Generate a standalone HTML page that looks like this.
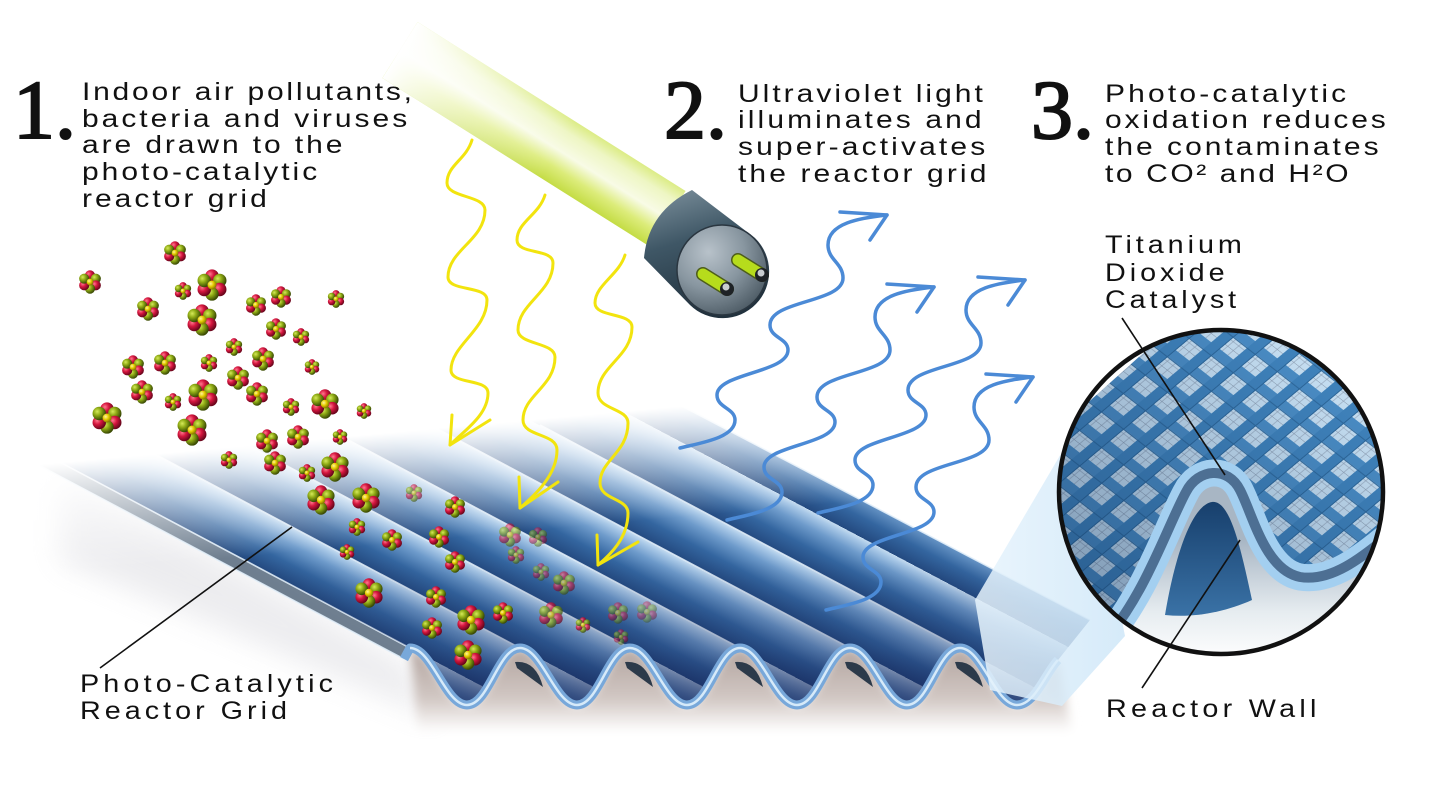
<!DOCTYPE html>
<html><head><meta charset="utf-8"><style>html,body{margin:0;padding:0;background:#fff;}svg{display:block}</style></head>
<body>
<svg xmlns="http://www.w3.org/2000/svg" width="1443" height="805" viewBox="0 0 1443 805">
<defs>
  <filter id="bs" filterUnits="userSpaceOnUse" x="300" y="550" width="900" height="250"><feGaussianBlur stdDeviation="5"/></filter>
  <filter id="bl" filterUnits="userSpaceOnUse" x="-100" y="350" width="700" height="450"><feGaussianBlur stdDeviation="14"/></filter>
  <filter id="b2" filterUnits="userSpaceOnUse" x="550" y="130" width="120" height="110"><feGaussianBlur stdDeviation="2"/></filter>

  <linearGradient id="band" gradientUnits="userSpaceOnUse" x1="410" y1="648" x2="434.1" y2="602.5" spreadMethod="repeat">
    <stop offset="0" stop-color="#244a80"/>
    <stop offset="0.35" stop-color="#3466a0"/>
    <stop offset="0.7" stop-color="#6e9bcb"/>
    <stop offset="0.92" stop-color="#a8c8e7"/>
    <stop offset="1" stop-color="#c6dcf0"/>
  </linearGradient>
  <linearGradient id="navy" gradientUnits="userSpaceOnUse" x1="0" y1="560" x2="0" y2="708">
    <stop offset="0" stop-color="#162458" stop-opacity="0"/>
    <stop offset="0.6" stop-color="#162458" stop-opacity="0.3"/>
    <stop offset="1" stop-color="#162458" stop-opacity="0.7"/>
  </linearGradient>
  <linearGradient id="fadeW" gradientUnits="userSpaceOnUse" x1="200" y1="450" x2="210" y2="560">
    <stop offset="0" stop-color="#fff" stop-opacity="1"/>
    <stop offset="1" stop-color="#fff" stop-opacity="0"/>
  </linearGradient>
  <linearGradient id="shad" gradientUnits="userSpaceOnUse" x1="0" y1="650" x2="0" y2="732">
    <stop offset="0" stop-color="#b3a5a0"/>
    <stop offset="0.6" stop-color="#d2c8c4"/>
    <stop offset="1" stop-color="#ffffff"/>
  </linearGradient>
  <linearGradient id="glass" gradientUnits="userSpaceOnUse" x1="685.6" y1="191" x2="650.4" y2="247">
    <stop offset="0" stop-color="#dcec86"/>
    <stop offset="0.2" stop-color="#eef6c4"/>
    <stop offset="0.5" stop-color="#f8fbe6"/>
    <stop offset="0.75" stop-color="#dcec7a"/>
    <stop offset="1" stop-color="#c4dc44"/>
  </linearGradient>
  <linearGradient id="glassFade" gradientUnits="userSpaceOnUse" x1="400" y1="50" x2="560" y2="150">
    <stop offset="0" stop-color="#fff" stop-opacity="1"/>
    <stop offset="1" stop-color="#fff" stop-opacity="0"/>
  </linearGradient>
  <linearGradient id="capBody" x1="0" y1="0" x2="0.3" y2="1">
    <stop offset="0" stop-color="#7f939f"/>
    <stop offset="0.45" stop-color="#3f5766"/>
    <stop offset="1" stop-color="#22323e"/>
  </linearGradient>
  <radialGradient id="capFace" cx="0.35" cy="0.3" r="0.8">
    <stop offset="0" stop-color="#b8c2ca"/>
    <stop offset="0.5" stop-color="#8896a0"/>
    <stop offset="1" stop-color="#46545e"/>
  </radialGradient>
  <radialGradient id="gRed" cx="0.35" cy="0.35" r="0.65">
    <stop offset="0" stop-color="#ff7a8e"/>
    <stop offset="0.45" stop-color="#d6163f"/>
    <stop offset="1" stop-color="#6a061c"/>
  </radialGradient>
  <radialGradient id="gGrn" cx="0.35" cy="0.35" r="0.65">
    <stop offset="0" stop-color="#d6ea5a"/>
    <stop offset="0.45" stop-color="#8eaa14"/>
    <stop offset="1" stop-color="#3a4a04"/>
  </radialGradient>
  <radialGradient id="gYel" cx="0.35" cy="0.35" r="0.65">
    <stop offset="0" stop-color="#fff6a0"/>
    <stop offset="0.5" stop-color="#e6cc00"/>
    <stop offset="1" stop-color="#8a7a00"/>
  </radialGradient>
  <symbol id="mol" viewBox="-1 -1 2 2">
    <circle cx="0" cy="-0.56" r="0.42" fill="url(#gRed)"/>
    <circle cx="0.485" cy="-0.28" r="0.42" fill="url(#gGrn)"/>
    <circle cx="0.485" cy="0.28" r="0.42" fill="url(#gRed)"/>
    <circle cx="0" cy="0.56" r="0.42" fill="url(#gGrn)"/>
    <circle cx="-0.485" cy="0.28" r="0.42" fill="url(#gRed)"/>
    <circle cx="-0.485" cy="-0.28" r="0.42" fill="url(#gGrn)"/>
    <circle cx="0" cy="0" r="0.28" fill="url(#gYel)"/>
  </symbol>

  <pattern id="mesh" width="28" height="28" patternUnits="userSpaceOnUse" patternTransform="rotate(38) skewX(-12)">
    <rect width="28" height="28" fill="#c6dff2"/>
    <path d="M0,7H28M0,14H28M0,21H28M7,0V28M14,0V28M21,0V28" stroke="#8898ac" stroke-width="0.5"/>
    <rect x="0" y="0" width="28" height="10" fill="#4a8cc4"/>
    <rect x="0" y="0" width="10" height="28" fill="#3f82bb"/>
    <path d="M0,10.5H28M10.5,0V28" stroke="#2c6699" stroke-width="1"/>
  </pattern>
  <linearGradient id="meshShade" gradientUnits="userSpaceOnUse" x1="1320" y1="360" x2="1090" y2="640">
    <stop offset="0" stop-color="#0a2850" stop-opacity="0"/>
    <stop offset="1" stop-color="#0a2850" stop-opacity="0.4"/>
  </linearGradient>
  <linearGradient id="under" gradientUnits="userSpaceOnUse" x1="0" y1="540" x2="0" y2="660">
    <stop offset="0" stop-color="#a8b6c4"/>
    <stop offset="0.6" stop-color="#e6ecf0"/>
    <stop offset="1" stop-color="#ffffff"/>
  </linearGradient>
  <linearGradient id="hump" x1="0" y1="0" x2="0" y2="1">
    <stop offset="0" stop-color="#173f6c"/>
    <stop offset="1" stop-color="#3a72a6"/>
  </linearGradient>
  <linearGradient id="beam" gradientUnits="userSpaceOnUse" x1="980" y1="0" x2="1120" y2="0">
    <stop offset="0" stop-color="#e6f3fc"/>
    <stop offset="1" stop-color="#cfe7f8"/>
  </linearGradient>
  <clipPath id="cc"><circle cx="1221" cy="492" r="162"/></clipPath>
</defs>

<rect width="1443" height="805" fill="#fff"/>

<!-- shadows -->
<polygon points="60,470 404,662 440,720 60,560" fill="#d6d6dc" opacity="0.45" filter="url(#bl)"/>
<path d="M410,648 C432,648 445,705 467,705 C489,705 498,648 520,648 C542,648 555,705 577,705 C599,705 608,648 630,648 C652,648 665,705 687,705 C709,705 718,648 740,648 C762,648 775,705 797,705 C819,705 828,648 850,648 C872,648 885,705 907,705 C929,705 938,648 960,648 C982,648 995,705 1017,705 C1035,705 1046,672 1058,660 L1072,732 L418,732 Z" fill="url(#shad)" filter="url(#bs)"/>

<!-- dark underside triangles -->
<g fill="#2c3a4a">
  <path d="M515,662 Q536,660 543,687 L517,668 Z"/>
  <path d="M625,662 Q646,660 653,687 L627,668 Z"/>
  <path d="M735,662 Q756,660 763,687 L737,668 Z"/>
  <path d="M845,662 Q866,660 873,687 L847,668 Z"/>
  <path d="M955,662 Q976,660 983,687 L957,668 Z"/>
</g>

<!-- left strip -->
<polygon points="410,648 -10,425 -16,436 404,659" fill="#56687c" opacity="0.85"/>

<!-- sheet -->
<path d="M410,648 C432,648 445,705 467,705 C489,705 498,648 520,648 C542,648 555,705 577,705 C599,705 608,648 630,648 C652,648 665,705 687,705 C709,705 718,648 740,648 C762,648 775,705 797,705 C819,705 828,648 850,648 C872,648 885,705 907,705 C929,705 938,648 960,648 C982,648 995,705 1017,705 C1035,705 1046,672 1058,660 L1090,620 L680,405 L-10,425 Z" fill="url(#band)"/>
<g stroke="#e2effa" stroke-width="1.6" opacity="0.9">
  <line x1="410" y1="648" x2="-10" y2="425"/>
  <line x1="520" y1="648" x2="100" y2="425"/>
  <line x1="630" y1="648" x2="210" y2="425"/>
  <line x1="740" y1="648" x2="320" y2="425"/>
  <line x1="850" y1="648" x2="430" y2="425"/>
  <line x1="960" y1="648" x2="540" y2="425"/>
  <line x1="1090" y1="620" x2="680" y2="405"/>
  <line x1="404" y1="659" x2="-16" y2="436"/>
</g>
<path d="M410,648 C432,648 445,705 467,705 C489,705 498,648 520,648 C542,648 555,705 577,705 C599,705 608,648 630,648 C652,648 665,705 687,705 C709,705 718,648 740,648 C762,648 775,705 797,705 C819,705 828,648 850,648 C872,648 885,705 907,705 C929,705 938,648 960,648 C982,648 995,705 1017,705 C1035,705 1046,672 1058,660 L1090,620 L680,405 L-10,425 Z" fill="url(#navy)"/>
<!-- front rim -->
<path d="M404,659 L410,648 C432,648 445,705 467,705 C489,705 498,648 520,648 C542,648 555,705 577,705 C599,705 608,648 630,648 C652,648 665,705 687,705 C709,705 718,648 740,648 C762,648 775,705 797,705 C819,705 828,648 850,648 C872,648 885,705 907,705 C929,705 938,648 960,648 C982,648 995,705 1017,705 C1035,705 1046,672 1058,660" fill="none" stroke="#78a8da" stroke-width="9" stroke-linejoin="round"/>
<path d="M410,648 C432,648 445,705 467,705 C489,705 498,648 520,648 C542,648 555,705 577,705 C599,705 608,648 630,648 C652,648 665,705 687,705 C709,705 718,648 740,648 C762,648 775,705 797,705 C819,705 828,648 850,648 C872,648 885,705 907,705 C929,705 938,648 960,648 C982,648 995,705 1017,705 C1035,705 1046,672 1058,660" fill="none" stroke="#d6eaf9" stroke-width="2.5"/>

<!-- fade to white at back -->
<rect x="-20" y="370" width="1140" height="240" fill="url(#fadeW)"/>

<!-- yellow arrows -->
<g fill="none" stroke="#f2e40e" stroke-width="3" stroke-linecap="round" stroke-linejoin="round">
  <path d="M472,140 C466,160 447,165 447,183 C447,198 485,195 485,210 C485,240 448,250 448,277 C448,292 487,285 487,300 C487,330 451,345 451,370 C451,385 488,378 488,393 C488,415 465,430 450,445"/>
  <path d="M452,415 L450,445 L490,420"/>
  <path d="M545,195 C539,215 517,222 517,240 C517,255 553,248 553,263 C553,293 518,303 518,330 C518,345 555,342 555,357 C555,387 523,395 523,420 C523,437 557,433 557,450 C557,475 535,495 520,508"/>
  <path d="M519,477 L520,508 L558,482"/>
  <path d="M625,255 C619,275 595,285 595,303 C595,318 632,312 632,327 C632,357 598,366 598,393 C598,410 628,408 628,423 C628,453 600,460 600,483 C600,500 628,498 628,513 C628,538 610,555 598,565"/>
  <path d="M597,535 L598,565 L638,542"/>
</g>

<!-- blue arrows -->
<g fill="none" stroke="#4b8ad6" stroke-width="3.5" stroke-linecap="round" stroke-linejoin="round">
  <g transform="translate(680,448)"><path d="M0,0 C20,-5 55,-10 55,-28 C55,-40 37,-40 37,-53 C37,-75 108,-75 108,-98 C108,-110 90,-110 90,-123 C90,-148 163,-145 163,-170 C163,-185 148,-188 148,-203 C148,-225 180,-230 207,-233"/><path d="M160,-236 L207,-233 L190,-208"/></g>
  <g transform="translate(727,520)"><path d="M0,0 C20,-5 55,-10 55,-28 C55,-40 37,-40 37,-53 C37,-75 108,-75 108,-98 C108,-110 90,-110 90,-123 C90,-148 163,-145 163,-170 C163,-185 148,-188 148,-203 C148,-225 180,-230 207,-233"/><path d="M160,-236 L207,-233 L190,-208"/></g>
  <g transform="translate(818,513)"><path d="M0,0 C20,-5 55,-10 55,-28 C55,-40 37,-40 37,-53 C37,-75 108,-75 108,-98 C108,-110 90,-110 90,-123 C90,-148 163,-145 163,-170 C163,-185 148,-188 148,-203 C148,-225 180,-230 207,-233"/><path d="M160,-236 L207,-233 L190,-208"/></g>
  <g transform="translate(826,610)"><path d="M0,0 C20,-5 55,-10 55,-28 C55,-40 37,-40 37,-53 C37,-75 108,-75 108,-98 C108,-110 90,-110 90,-123 C90,-148 163,-145 163,-170 C163,-185 148,-188 148,-203 C148,-225 180,-230 207,-233"/><path d="M160,-236 L207,-233 L190,-208"/></g>
</g>

<!-- UV tube -->
<polygon points="417.6,22 685.6,191 650.4,247 382.4,78" fill="url(#glass)"/>
<polygon points="417.6,22 685.6,191 650.4,247 382.4,78" fill="url(#glassFade)"/>
<rect x="-20" y="-18" width="40" height="36" fill="#fff" opacity="0.85" transform="translate(613,188) rotate(32)" filter="url(#b2)"/>
<path d="M692,190 L755,238 A46,46 0 0 1 690,305 L644,258 Q648,212 692,190 Z" fill="url(#capBody)"/>
<circle cx="722" cy="270" r="45" fill="url(#capFace)" stroke="#2a3640" stroke-width="1.5"/>
<g stroke-linecap="round">
  <line x1="703" y1="274" x2="727" y2="289" stroke="#4e5e1a" stroke-width="14"/>
  <line x1="703" y1="274" x2="727" y2="289" stroke="#b6dc1c" stroke-width="11"/>
  <line x1="738" y1="260" x2="762" y2="275" stroke="#4e5e1a" stroke-width="14"/>
  <line x1="738" y1="260" x2="762" y2="275" stroke="#b6dc1c" stroke-width="11"/>
</g>
<circle cx="727" cy="289" r="7" fill="#1e2226"/><circle cx="726" cy="287" r="3.5" fill="#c9cdd0"/>
<circle cx="762" cy="275" r="7" fill="#1e2226"/><circle cx="761" cy="273" r="3.5" fill="#c9cdd0"/>

<!-- molecules -->
<g>
<use href="#mol" x="163" y="241" width="24" height="24"/>
<use href="#mol" x="78" y="270" width="24" height="24"/>
<use href="#mol" x="196" y="269" width="32" height="32"/>
<use href="#mol" x="174" y="282" width="18" height="18"/>
<use href="#mol" x="136" y="297" width="24" height="24"/>
<use href="#mol" x="186" y="304" width="32" height="32"/>
<use href="#mol" x="245" y="294" width="22" height="22"/>
<use href="#mol" x="270" y="286" width="22" height="22"/>
<use href="#mol" x="327" y="290" width="18" height="18"/>
<use href="#mol" x="265" y="318" width="22" height="22"/>
<use href="#mol" x="292" y="328" width="18" height="18"/>
<use href="#mol" x="225" y="338" width="18" height="18"/>
<use href="#mol" x="251" y="347" width="24" height="24"/>
<use href="#mol" x="304" y="359" width="16" height="16"/>
<use href="#mol" x="121" y="355" width="24" height="24"/>
<use href="#mol" x="153" y="351" width="24" height="24"/>
<use href="#mol" x="200" y="354" width="18" height="18"/>
<use href="#mol" x="226" y="366" width="24" height="24"/>
<use href="#mol" x="130" y="380" width="24" height="24"/>
<use href="#mol" x="187" y="379" width="32" height="32"/>
<use href="#mol" x="245" y="382" width="24" height="24"/>
<use href="#mol" x="164" y="393" width="18" height="18"/>
<use href="#mol" x="282" y="398" width="18" height="18"/>
<use href="#mol" x="310" y="389" width="30" height="30"/>
<use href="#mol" x="356" y="403" width="16" height="16"/>
<use href="#mol" x="91" y="402" width="32" height="32"/>
<use href="#mol" x="176" y="414" width="32" height="32"/>
<use href="#mol" x="255" y="429" width="24" height="24"/>
<use href="#mol" x="286" y="425" width="24" height="24"/>
<use href="#mol" x="332" y="429" width="16" height="16"/>
<use href="#mol" x="220" y="451" width="18" height="18"/>
<use href="#mol" x="263" y="451" width="24" height="24"/>
<use href="#mol" x="320" y="452" width="30" height="30"/>
<use href="#mol" x="298" y="464" width="18" height="18"/>
<use href="#mol" x="306" y="485" width="30" height="30"/>
<use href="#mol" x="351" y="483" width="30" height="30"/>
<use href="#mol" x="348" y="518" width="18" height="18"/>
<use href="#mol" x="381" y="529" width="22" height="22"/>
<use href="#mol" x="428" y="526" width="22" height="22"/>
<use href="#mol" x="339" y="544" width="16" height="16"/>
<use href="#mol" x="444" y="551" width="22" height="22"/>
<use href="#mol" x="405" y="484" width="18" height="18" opacity="0.6"/>
<use href="#mol" x="444" y="496" width="22" height="22"/>
<use href="#mol" x="354" y="578" width="30" height="30"/>
<use href="#mol" x="425" y="586" width="22" height="22"/>
<use href="#mol" x="456" y="605" width="30" height="30"/>
<use href="#mol" x="492" y="602" width="22" height="22"/>
<use href="#mol" x="421" y="617" width="22" height="22"/>
<use href="#mol" x="453" y="640" width="30" height="30"/>
<use href="#mol" x="538" y="602" width="26" height="26" opacity="0.7"/>
<use href="#mol" x="575" y="617" width="16" height="16" opacity="0.8"/>
<use href="#mol" x="607" y="602" width="22" height="22" opacity="0.5"/>
<use href="#mol" x="636" y="601" width="22" height="22" opacity="0.4"/>
<use href="#mol" x="613" y="629" width="16" height="16" opacity="0.5"/>
<use href="#mol" x="498" y="523" width="24" height="24" opacity="0.6"/>
<use href="#mol" x="528" y="527" width="20" height="20" opacity="0.5"/>
<use href="#mol" x="507" y="546" width="18" height="18" opacity="0.6"/>
<use href="#mol" x="532" y="563" width="18" height="18" opacity="0.5"/>
<use href="#mol" x="552" y="571" width="24" height="24" opacity="0.6"/>
</g>

<!-- light beam -->
<polygon points="1082,418 975,600 990,690 1062,706 1125,636" fill="url(#beam)" opacity="0.85"/>

<!-- circle inset -->
<g clip-path="url(#cc)">
  <rect x="1055" y="325" width="335" height="335" fill="url(#mesh)"/>
  <rect x="1055" y="325" width="335" height="335" fill="url(#meshShade)"/>
  <polygon points="1040,320 1180,320 1150,347 1083,407 1040,440" fill="#fff"/>
  <path d="M1105,640 C1145,595 1168,525 1186,492 C1198,468 1228,466 1240,490 C1253,515 1265,570 1300,577 C1330,582 1360,560 1395,530 L1400,720 L1100,720 Z" fill="url(#under)"/>
  <path d="M1165,615 C1175,555 1192,505 1212,502 C1230,500 1240,545 1252,600 C1225,612 1195,618 1165,615 Z" fill="url(#hump)"/>
  <path d="M1105,640 C1145,595 1168,525 1186,492 C1198,468 1228,466 1240,490 C1253,515 1265,570 1300,577 C1330,582 1360,560 1395,530" fill="none" stroke="#a3cff0" stroke-width="27"/>
  <path d="M1105,640 C1145,595 1168,525 1186,492 C1198,468 1228,466 1240,490 C1253,515 1265,570 1300,577 C1330,582 1360,560 1395,530" fill="none" stroke="#4d6f93" stroke-width="10"/>
</g>
<circle cx="1221" cy="492" r="162" fill="none" stroke="#111" stroke-width="4.5"/>

<!-- leader lines -->
<g stroke="#111" stroke-width="1.6">
  <line x1="100" y1="668" x2="292" y2="527"/>
  <line x1="1122" y1="318" x2="1225" y2="475"/>
  <line x1="1142" y1="688" x2="1240" y2="540"/>
</g>

<!-- numerals -->
<g font-family="'Liberation Serif', 'Times New Roman', serif" font-size="84" fill="#111" stroke="#111" stroke-width="2">
  <text x="13" y="138">1.</text>
  <text x="664" y="138">2.</text>
  <text x="1031" y="138">3.</text>
</g>

<!-- body text -->
<g font-family="'Liberation Sans', Arial, sans-serif" font-size="25" fill="#111">
  <text transform="translate(82,100) scale(1.2,1)" textLength="275" lengthAdjust="spacing">Indoor air pollutants,</text>
  <text transform="translate(82,127) scale(1.2,1)" textLength="271" lengthAdjust="spacing">bacteria and viruses</text>
  <text transform="translate(82,153) scale(1.2,1)" textLength="217" lengthAdjust="spacing">are drawn to the</text>
  <text transform="translate(82,180) scale(1.2,1)" textLength="196" lengthAdjust="spacing">photo-catalytic</text>
  <text transform="translate(82,207) scale(1.2,1)" textLength="154" lengthAdjust="spacing">reactor grid</text>

  <text transform="translate(738,102) scale(1.2,1)" textLength="204" lengthAdjust="spacing">Ultraviolet light</text>
  <text transform="translate(738,128) scale(1.2,1)" textLength="203" lengthAdjust="spacing">illuminates and</text>
  <text transform="translate(738,155) scale(1.2,1)" textLength="206" lengthAdjust="spacing">super-activates</text>
  <text transform="translate(738,182) scale(1.2,1)" textLength="207" lengthAdjust="spacing">the reactor grid</text>

  <text transform="translate(1105,102) scale(1.2,1)" textLength="201" lengthAdjust="spacing">Photo-catalytic</text>
  <text transform="translate(1105,128) scale(1.2,1)" textLength="234" lengthAdjust="spacing">oxidation reduces</text>
  <text transform="translate(1105,155) scale(1.2,1)" textLength="228" lengthAdjust="spacing">the contaminates</text>
  <text transform="translate(1105,182) scale(1.2,1)" textLength="203" lengthAdjust="spacing">to CO² and H²O</text>
</g>

<!-- labels -->
<g font-family="'Liberation Sans', Arial, sans-serif" font-size="25" fill="#111">
  <text transform="translate(1105,253) scale(1.15,1)" textLength="119" lengthAdjust="spacing">Titanium</text>
  <text transform="translate(1105,281) scale(1.15,1)" textLength="104" lengthAdjust="spacing">Dioxide</text>
  <text transform="translate(1105,308) scale(1.15,1)" textLength="114" lengthAdjust="spacing">Catalyst</text>
  <text transform="translate(1106,717) scale(1.15,1)" textLength="183" lengthAdjust="spacing">Reactor Wall</text>
  <text transform="translate(80,692) scale(1.15,1)" textLength="220" lengthAdjust="spacing">Photo-Catalytic</text>
  <text transform="translate(80,719) scale(1.15,1)" textLength="180" lengthAdjust="spacing">Reactor Grid</text>
</g>
</svg>
</body></html>
